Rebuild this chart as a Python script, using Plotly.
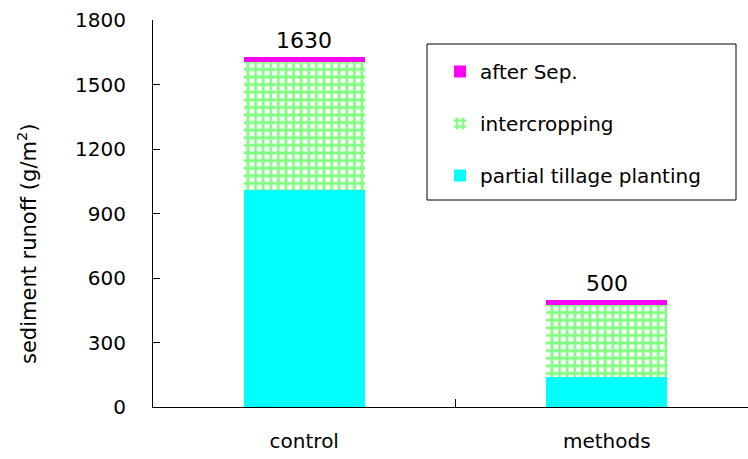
import plotly.graph_objects as go

categories = ["control", "methods"]
partial_tillage = [1010, 140]
intercropping = [595, 335]
after_sep = [25, 25]
totals = [a + b + c for a, b, c in zip(partial_tillage, intercropping, after_sep)]
y_ticks = [0, 300, 600, 900, 1200, 1500, 1800]

FONT = "DejaVu Sans"

fig = go.Figure()
fig.add_trace(go.Bar(
    x=categories, y=partial_tillage, name="partial tillage planting",
    marker=dict(color="#00FFFF", line=dict(width=0)), width=0.4,
    legendgroup="a", legendrank=3,
))
fig.add_trace(go.Bar(
    x=categories, y=intercropping, name="intercropping",
    marker=dict(color="white", line=dict(width=0),
                pattern=dict(shape="+", fgcolor="#00FF00", bgcolor="white",
                             size=7.6, solidity=0.6, fillmode="overlay")),
    width=0.4, legendgroup="b", legendrank=2,
))
fig.add_trace(go.Bar(
    x=categories, y=after_sep, name="after Sep.",
    marker=dict(color="#FF00FF", line=dict(width=0)), width=0.4,
    legendgroup="c", legendrank=1,
))

for c, t in zip(categories, totals):
    fig.add_annotation(x=c, y=t, text=str(t), showarrow=False, yanchor="bottom",
                       yshift=2, font=dict(family=FONT, size=22, color="black"))

# y-axis title (placed as in the reference, slightly below plot centre)
fig.add_annotation(xref="paper", yref="paper", x=-(153 - 27) / 595, y=(407 - 244) / 387,
                   text="sediment runoff (g/m<sup>2</sup>)", textangle=-90,
                   showarrow=False, xanchor="center", yanchor="middle",
                   font=dict(family=FONT, size=21, color="black"))

# legend frame
fig.add_shape(type="rect", xref="paper", yref="paper",
              x0=(427 - 153) / 595, x1=(736 - 153) / 595,
              y0=(407 - 200) / 387, y1=(407 - 44) / 387,
              line=dict(color="black", width=1), fillcolor="rgba(0,0,0,0)")

fig.update_layout(
    width=748, height=459,
    margin=dict(l=153, r=0, t=20, b=52),
    barmode="stack",
    plot_bgcolor="white", paper_bgcolor="white",
    font=dict(family=FONT, size=20, color="black"),
    showlegend=True,
    legend=dict(x=(440 - 153) / 595, y=(407 - 52) / 387, xanchor="left", yanchor="top",
                traceorder="grouped", tracegroupgap=23,
                font=dict(family=FONT, size=20, color="black"),
                bgcolor="rgba(0,0,0,0)", borderwidth=0, itemwidth=30),
    xaxis=dict(range=[-0.5, 1.467], showline=True, linecolor="black", linewidth=1,
               ticks="inside", tickson="boundaries", ticklen=8, tickcolor="black",
               showgrid=False, tickfont=dict(size=20), ticklabelstandoff=16),
    yaxis=dict(range=[0, 1800], tickvals=y_ticks, showline=True, linecolor="black",
               linewidth=1, ticks="inside", ticklen=7, tickcolor="black",
               showgrid=False, zeroline=False, tickfont=dict(size=20),
               ticklabelstandoff=22),
)

fig.write_html("out.html")
